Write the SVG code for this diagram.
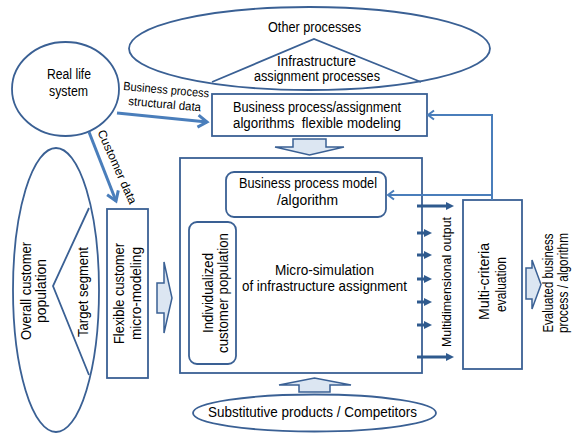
<svg xmlns="http://www.w3.org/2000/svg" width="578" height="435" viewBox="0 0 578 435">
<style>
.o{fill:#fff;stroke:#3a6094;stroke-width:1.8}
.n{fill:none;stroke:#3a6094;stroke-width:1.8}
.ba{fill:#dce6f2;stroke:#3a6094;stroke-width:1.5;stroke-linejoin:miter}
.t{font-family:"Liberation Sans",Arial,sans-serif;font-size:14px;fill:#000;text-anchor:middle}
.s{font-family:"Liberation Sans",Arial,sans-serif;font-size:12px;fill:#000}
.ln{fill:none;stroke:#4a7ebb;stroke-width:3}
.fb{fill:none;stroke:#4a7ebb;stroke-width:2}
.sm{fill:none;stroke:#2f5a8e;stroke-width:3}
</style>
<defs>
<marker id="chev" markerUnits="userSpaceOnUse" markerWidth="16" markerHeight="16" refX="11" refY="8" orient="auto">
<path d="M2,2 L11,8 L2,14" fill="none" stroke="#4a7ebb" stroke-width="3"/>
</marker>
<marker id="chev2" markerUnits="userSpaceOnUse" markerWidth="12" markerHeight="12" refX="8" refY="6" orient="auto">
<path d="M2,1.5 L8,6 L2,10.5" fill="none" stroke="#4a7ebb" stroke-width="2"/>
</marker>
<marker id="tri" markerUnits="userSpaceOnUse" markerWidth="10" markerHeight="10" refX="1" refY="5" orient="auto">
<path d="M0,1 L8,5 L0,9 Z" fill="#2f5a8e"/>
</marker>
</defs>

<g id="other-processes">
<ellipse class="o" cx="309.5" cy="48.5" rx="180.5" ry="41.5"/>
<polyline class="n" points="212,82 314,39 421,82"/>
<text class="t" x="314.5" y="32" textLength="93" lengthAdjust="spacingAndGlyphs">Other processes</text>
<text class="t" x="316.5" y="66" textLength="79" lengthAdjust="spacingAndGlyphs">Infrastructure</text>
<text class="t" x="317" y="81" textLength="126" lengthAdjust="spacingAndGlyphs">assignment processes</text>
</g>

<g id="real-life-system">
<ellipse class="o" cx="65.5" cy="89" rx="53.5" ry="47"/>
<text class="t" x="69" y="79" textLength="44" lengthAdjust="spacingAndGlyphs">Real life</text>
<text class="t" x="68.5" y="96" textLength="39" lengthAdjust="spacingAndGlyphs">system</text>
</g>

<g id="bp-flexible-modeling">
<rect class="o" x="212" y="94" width="215" height="42"/>
<text class="t" x="317" y="112" textLength="168" lengthAdjust="spacingAndGlyphs">Business process/assignment</text>
<text class="t" x="317" y="128" textLength="168" lengthAdjust="spacingAndGlyphs" style="white-space:pre">algorithms  flexible modeling</text>
</g>

<g id="overall-customer-population">
<ellipse class="o" cx="56" cy="290" rx="43" ry="142"/>
<polyline class="n" points="89,208 53,286 89,375"/>
<text class="t" transform="translate(31,291) rotate(-90)" textLength="98" lengthAdjust="spacingAndGlyphs">Overall customer</text>
<text class="t" transform="translate(46,291) rotate(-90)" textLength="64" lengthAdjust="spacingAndGlyphs">population</text>
<text class="t" transform="translate(88,292) rotate(-90)" textLength="90" lengthAdjust="spacingAndGlyphs">Target segment</text>
</g>

<g id="flexible-customer-micro-modeling">
<rect class="o" x="107" y="209" width="41" height="169"/>
<text class="t" transform="translate(124,293.5) rotate(-90)" textLength="101" lengthAdjust="spacingAndGlyphs">Flexible customer</text>
<text class="t" transform="translate(141,293.5) rotate(-90)" textLength="93" lengthAdjust="spacingAndGlyphs">micro-modeling</text>
</g>

<g id="micro-simulation">
<rect class="o" x="180" y="158" width="242" height="215"/>
<text class="t" x="324.5" y="275" textLength="99" lengthAdjust="spacingAndGlyphs">Micro-simulation</text>
<text class="t" x="324.5" y="291" textLength="165" lengthAdjust="spacingAndGlyphs">of infrastructure assignment</text>
</g>

<g id="bp-model">
<rect class="o" x="226" y="172" width="160" height="45" rx="8" ry="8"/>
<text class="t" x="308" y="188" textLength="138" lengthAdjust="spacingAndGlyphs">Business process model</text>
<text class="t" x="307.5" y="205" textLength="61" lengthAdjust="spacingAndGlyphs">/algorithm</text>
</g>

<g id="individualized-population">
<rect class="o" x="189" y="222" width="47" height="142" rx="8" ry="8"/>
<text class="t" transform="translate(213,293) rotate(-90)" textLength="80" lengthAdjust="spacingAndGlyphs">Individualized</text>
<text class="t" transform="translate(228,293) rotate(-90)" textLength="120" lengthAdjust="spacingAndGlyphs">customer population</text>
</g>

<g id="multi-criteria-evaluation">
<rect class="o" x="463" y="200" width="59" height="169"/>
<text class="t" transform="translate(489,281.5) rotate(-90)" textLength="77" lengthAdjust="spacingAndGlyphs">Multi-criteria</text>
<text class="t" transform="translate(506,284.5) rotate(-90)" textLength="55" lengthAdjust="spacingAndGlyphs">evaluation</text>
</g>

<g id="substitutive-products">
<ellipse class="o" cx="314.5" cy="413" rx="121.5" ry="18.5"/>
<text class="t" x="312.5" y="417" textLength="209" lengthAdjust="spacingAndGlyphs">Substitutive products / Competitors</text>
</g>

<g id="evaluated-output">
<text class="t" transform="translate(553,283) rotate(-90)" textLength="99" lengthAdjust="spacingAndGlyphs">Evaluated business</text>
<text class="t" transform="translate(568,283) rotate(-90)" textLength="100" lengthAdjust="spacingAndGlyphs">process / algorithm</text>
</g>

<g id="connectors">
<line class="ln" x1="117" y1="113" x2="207" y2="122" marker-end="url(#chev)"/>
<text class="s" transform="translate(123,90) rotate(5)" textLength="86" lengthAdjust="spacingAndGlyphs">Business process</text>
<text class="s" transform="translate(128,105) rotate(5)" textLength="73" lengthAdjust="spacingAndGlyphs">structural data</text>

<line class="ln" x1="89" y1="132" x2="116" y2="201" marker-end="url(#chev)"/>
<text class="s" text-anchor="middle" transform="translate(113.5,168.5) rotate(66)" textLength="80" lengthAdjust="spacingAndGlyphs">Customer data</text>

<polygon class="ba" points="293,139 326,139 326,147 344,147 309.5,155 275,147 293,147"/>
<polygon class="ba" points="157,283 164,283 164,262 172,298 164,333 164,313 157,313"/>
<polygon class="ba" points="299,392 330,392 330,385 351,385 314.5,378 279,385 299,385"/>
<polygon class="ba" points="526,268 532,268 532,260 541,284.5 532,309 532,299 526,299"/>

<polyline class="fb" points="492,200 492,115 428,115" marker-end="url(#chev2)"/>
<line class="fb" x1="492" y1="195" x2="388" y2="195" marker-end="url(#chev2)"/>

<line class="sm" x1="417" y1="206" x2="447" y2="206" marker-end="url(#tri)"/>
<line class="sm" x1="417" y1="233" x2="425" y2="233" marker-end="url(#tri)"/>
<line class="sm" x1="417" y1="255" x2="425" y2="255" marker-end="url(#tri)"/>
<line class="sm" x1="417" y1="279" x2="425" y2="279" marker-end="url(#tri)"/>
<line class="sm" x1="417" y1="302" x2="425" y2="302" marker-end="url(#tri)"/>
<line class="sm" x1="417" y1="325" x2="425" y2="325" marker-end="url(#tri)"/>
<line class="sm" x1="417" y1="357" x2="447" y2="357" marker-end="url(#tri)"/>
<text class="s" text-anchor="middle" transform="translate(450.5,282) rotate(-90)" textLength="130" lengthAdjust="spacingAndGlyphs">Multidimensional output</text>
</g>
</svg>
